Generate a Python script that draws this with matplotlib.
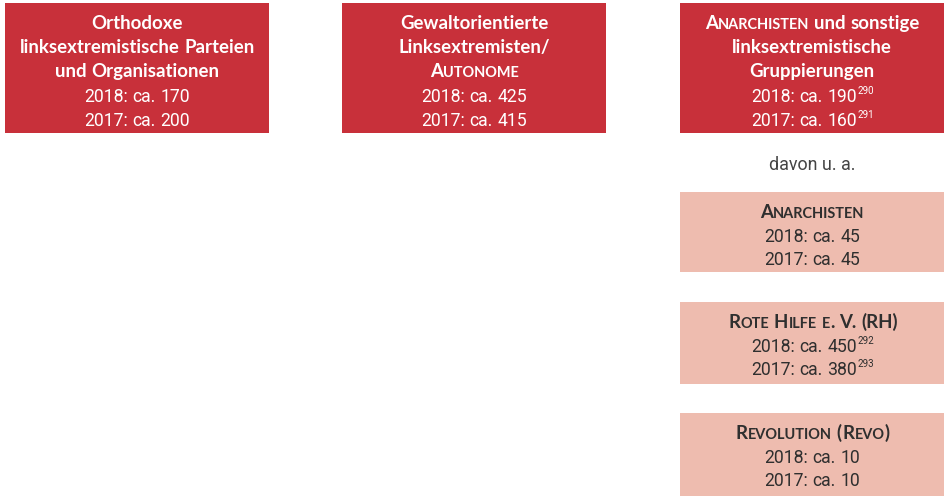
import matplotlib
matplotlib.use("Agg")
import matplotlib.pyplot as plt
from matplotlib.patches import Rectangle

# ---------------- data ----------------
top_titles = [
    ["Orthodoxe", "linksextremistische Parteien", "und Organisationen"],
    ["Gewaltorientierte", "Linksextremisten/", "{Autonome}"],
    ["{Anarchisten} und sonstige", "linksextremistische", "Gruppierungen"],
]
top_2018 = [170, 425, 190]
top_2017 = [200, 415, 160]
top_fn_2018 = ["", "", "290"]
top_fn_2017 = ["", "", "291"]

sub_label = "davon u. a."
sub_titles = ["{Anarchisten}", "{Rote} {Hilfe} {e.} V. (RH)", "{Revolution} ({Revo})"]
sub_2018 = [45, 450, 10]
sub_2017 = [45, 380, 10]
sub_fn_2018 = ["", "292", ""]
sub_fn_2017 = ["", "293", ""]

# ---------------- style ----------------
RED = "#C8303A"
PINK = "#EEBCAF"
DARK = "#2F2F2F"
WHITE = "#FFFFFF"
HFONT = "Lato"
NFONT = "Roboto"
HSIZE = 13.4         # heading pt
NSIZE = 12.7         # numbers pt
NWEIGHT = "normal"
SC = 0.78            # small caps scale
SUP = 0.55

W, H = 945, 496
fig = plt.figure(figsize=(W / 100, H / 100), dpi=100)
ax = fig.add_axes([0, 0, 1, 1])
ax.set_xlim(0, W)
ax.set_ylim(H, 0)
ax.axis("off")
renderer = fig.canvas.get_renderer()

_space_cache = {}


def text_width(s, size, weight, family):
    t = ax.text(0, 0, s, fontsize=size, fontweight=weight, family=family)
    w = t.get_window_extent(renderer).width
    t.remove()
    return w


def space_width(size, weight, family):
    key = (size, weight, family)
    if key not in _space_cache:
        _space_cache[key] = (text_width("n n", size, weight, family)
                             - text_width("nn", size, weight, family))
    return _space_cache[key]


def tokens_from_markup(line, size, weight, family):
    """{word} -> small caps; returns list of (text,size,weight,family,rise)"""
    toks = []
    words = line.split(" ")
    for i, wd in enumerate(words):
        if i > 0:
            toks.append(("SP", size, weight, family, 0))
        parts = []
        buf = ""
        sc = False
        for ch in wd:
            if ch == "{":
                if buf:
                    parts.append((buf, sc))
                buf = ""
                sc = True
            elif ch == "}":
                if buf:
                    parts.append((buf, sc))
                buf = ""
                sc = False
            else:
                buf += ch
        if buf:
            parts.append((buf, sc))
        for txt, is_sc in parts:
            if not is_sc:
                toks.append((txt, size, weight, family, 0))
            else:
                seg = ""
                cur = None
                for ch in txt:
                    small = ch.islower()
                    if cur is None or small == cur:
                        seg += ch.upper() if small else ch
                    else:
                        toks.append((seg, size * SC if cur else size, weight, family, 0))
                        seg = ch.upper() if small else ch
                    cur = small
                if seg:
                    toks.append((seg, size * SC if cur else size, weight, family, 0))
    return toks


def draw_tokens(cx, y, toks, color):
    widths = []
    for txt, size, weight, family, rise in toks:
        if txt == "SP":
            widths.append(space_width(size, weight, family))
        else:
            widths.append(text_width(txt, size, weight, family))
    total = sum(widths)
    x = cx - total / 2
    for (txt, size, weight, family, rise), w in zip(toks, widths):
        if txt != "SP":
            ax.text(x, y - rise, txt, fontsize=size, fontweight=weight, family=family,
                    color=color, ha="left", va="baseline")
        x += w + (0.3 if txt != "SP" else 0)


def value_line(cx, y, year, val, fn, color):
    f = NFONT
    toks = [(f"{year}:", NSIZE, NWEIGHT, f, 0), ("SP", NSIZE, NWEIGHT, f, 0),
            ("ca.", NSIZE, NWEIGHT, f, 0), ("SP", NSIZE, NWEIGHT, f, 0),
            (str(val), NSIZE, NWEIGHT, f, 0)]
    if fn:
        toks.append((fn, NSIZE * SUP, NWEIGHT, f, NSIZE * 0.62))
    draw_tokens(cx, y, toks, color)


# ---------------- top boxes ----------------
box_x = [5, 342, 680]
box_w = 264
top_y, top_h = 3, 130
for i in range(3):
    ax.add_patch(Rectangle((box_x[i], top_y), box_w, top_h, facecolor=RED,
                           edgecolor="none"))
    cx = box_x[i] + box_w / 2
    y = top_y + 26
    for line in top_titles[i]:
        draw_tokens(cx, y, tokens_from_markup(line, HSIZE, "bold", HFONT), WHITE)
        y += 24
    value_line(cx, y + 1, 2018, top_2018[i], top_fn_2018[i], WHITE)
    value_line(cx, y + 25, 2017, top_2017[i], top_fn_2017[i], WHITE)

# ---------------- "davon u. a." ----------------
cx3 = box_x[2] + box_w / 2
ax.text(cx3, 170, sub_label, fontsize=12.9, family=NFONT, color="#444444",
        ha="center", va="baseline")

# ---------------- sub boxes ----------------
sub_y = [192, 302, 413]
sub_h = [80, 82, 83]
for j in range(3):
    ax.add_patch(Rectangle((box_x[2], sub_y[j]), box_w, sub_h[j], facecolor=PINK,
                           edgecolor="none"))
    y = sub_y[j] + 26
    draw_tokens(cx3, y, tokens_from_markup(sub_titles[j], HSIZE, "bold", HFONT), DARK)
    value_line(cx3, y + 24, 2018, sub_2018[j], sub_fn_2018[j], DARK)
    value_line(cx3, y + 47, 2017, sub_2017[j], sub_fn_2017[j], DARK)

fig.savefig("out.png", dpi=100, facecolor="white")
